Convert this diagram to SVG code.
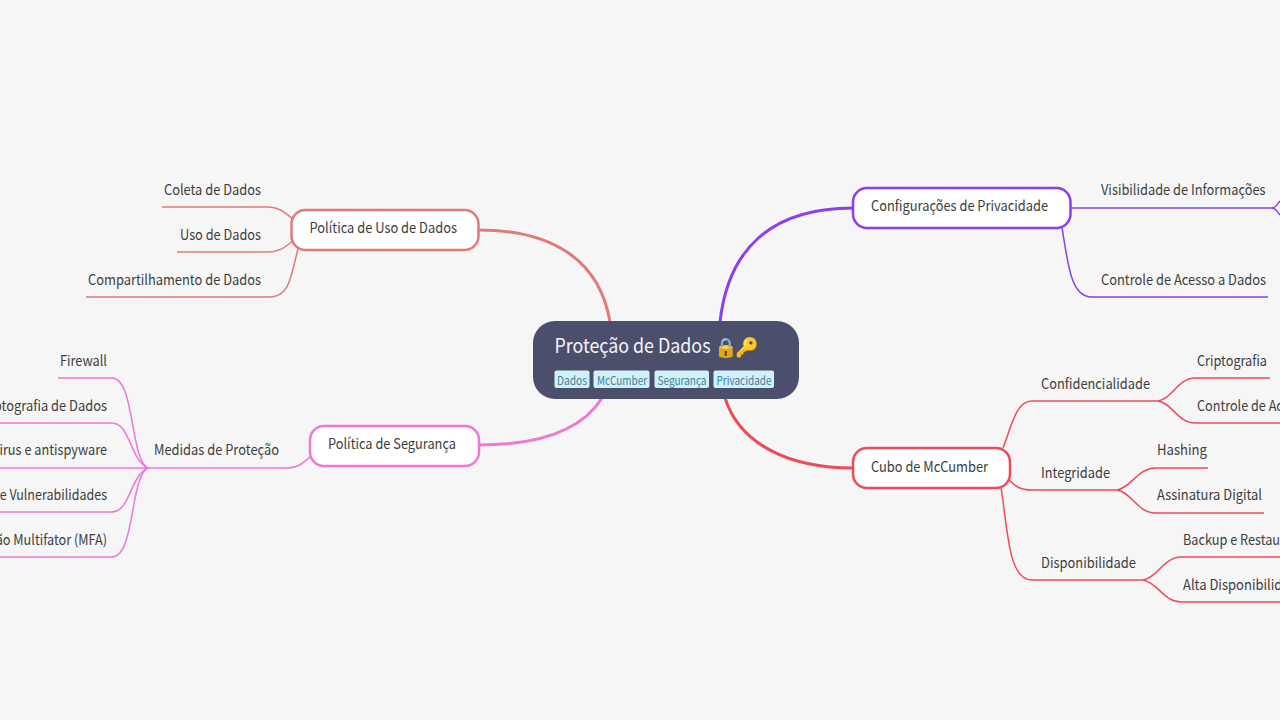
<svg xmlns="http://www.w3.org/2000/svg" width="1280" height="720" viewBox="0 0 1280 720">
<style>
text{font-family:"Noto Sans CJK SC","Source Sans Pro","Noto Sans",sans-serif;font-size:14.5px;fill:#3d3d3d}
.n{fill:#fff;stroke-width:2.5}
.l{fill:none;stroke-width:1.5}
.m{fill:none;stroke-width:3}
.tag{fill:#d2f0f8}
.tt{font-size:11.5px;fill:#3d8299}
.a{stroke:#e07b7b}.b{stroke:#8a3ff0}.c{stroke:#ee78d6}.d{stroke:#ee4b5a}
</style>
<rect width="1280" height="720" fill="#f6f6f6"/>
<g id="connectors">
<path class="m a" d="M610,322C600,262 555,230 479,230"/>
<path class="m b" d="M720,322C728,250 770,208 853,208"/>
<path class="m c" d="M602,398C582,430 540,445 479,445"/>
<path class="m d" d="M725,398C740,445 790,468 853,468"/>
<path class="l a" d="M293,219C284,212 279,207 268,207H162"/>
<path class="l a" d="M293,241C284,248 279,252 268,252H177"/>
<path class="l a" d="M298,249C291,275 290,297 270,297H86"/>
<path class="l b" d="M1071,208H1272"/>
<path class="l b" d="M1272,208C1276,208 1278,203 1280,201"/>
<path class="l b" d="M1272,208C1276,208 1278,213 1280,215"/>
<path class="l b" d="M1062,228C1068,262 1070,297 1092,297H1268"/>
<path class="l c" d="M311,456C302,464 298,468 285,468H150"/>
<path class="l c" d="M150,468H0"/>
<path class="l c" d="M148,468C130,460 135,378 112,378H58"/>
<path class="l c" d="M148,468C130,460 130,423 112,423H0"/>
<path class="l c" d="M148,468C130,476 130,512 112,512H0"/>
<path class="l c" d="M148,468C130,476 135,557 112,557H0"/>
<path class="l d" d="M1003,448C1012,425 1016,401 1032,401H1158"/>
<path class="l d" d="M1009,480C1015,486 1020,490 1032,490H1117"/>
<path class="l d" d="M1001,488C1008,530 1008,580 1032,580H1143"/>
<path class="l d" d="M1158,401C1172,399 1178,378 1195,378H1270"/>
<path class="l d" d="M1158,401C1172,403 1178,423 1195,423H1280"/>
<path class="l d" d="M1117,490C1131,488 1138,468 1155,468H1208"/>
<path class="l d" d="M1117,490C1131,492 1138,513 1155,513H1264"/>
<path class="l d" d="M1143,580C1157,578 1164,557 1181,557H1280"/>
<path class="l d" d="M1143,580C1157,582 1164,602 1181,602H1280"/>
</g>
<g id="root">
<rect x="533" y="321" width="266" height="78" rx="22" fill="#4c4f6c"/>
<text x="554.5" y="353" textLength="156" lengthAdjust="spacingAndGlyphs" style="font-size:20px;fill:#f4f4f8">Proteção de Dados</text>
<text x="713.500" y="354" style="font-size:19px;letter-spacing:-2.5px">🔒🔑</text>
<rect class="tag" x="554.5" y="370.5" width="35" height="17.5" rx="2"/>
<text class="tt" x="557" y="384.5" textLength="30" lengthAdjust="spacingAndGlyphs">Dados</text>
<rect class="tag" x="593.5" y="370.5" width="56" height="17.5" rx="2"/>
<text class="tt" x="597" y="384.5" textLength="50" lengthAdjust="spacingAndGlyphs">McCumber</text>
<rect class="tag" x="654.5" y="370.5" width="54.500" height="17.5" rx="2"/>
<text class="tt" x="657.500" y="384.5" textLength="49" lengthAdjust="spacingAndGlyphs">Segurança</text>
<rect class="tag" x="713.5" y="370.5" width="60.500" height="17.5" rx="2"/>
<text class="tt" x="716.500" y="384.5" textLength="55" lengthAdjust="spacingAndGlyphs">Privacidade</text>
</g>
<g id="uso"><rect class="n a" x="291.500" y="210" width="187" height="40" rx="14"/><text x="309.500" y="233" textLength="147.500" lengthAdjust="spacingAndGlyphs">Política de Uso de Dados</text></g>
<g id="seg"><rect class="n c" x="310" y="426" width="169" height="40" rx="14"/><text x="328" y="449" textLength="128" lengthAdjust="spacingAndGlyphs">Política de Segurança</text></g>
<g id="priv"><rect class="n b" x="853" y="188" width="217.500" height="40" rx="14"/><text x="871" y="211" textLength="177" lengthAdjust="spacingAndGlyphs">Configurações de Privacidade</text></g>
<g id="cubo"><rect class="n d" x="853" y="448" width="157" height="40" rx="14"/><text x="871" y="472" textLength="117" lengthAdjust="spacingAndGlyphs">Cubo de McCumber</text></g>
<g id="uso-kids">
<text x="164" y="195" textLength="97" lengthAdjust="spacingAndGlyphs">Coleta de Dados</text>
<text x="180" y="240" textLength="81" lengthAdjust="spacingAndGlyphs">Uso de Dados</text>
<text x="88" y="285" textLength="173" lengthAdjust="spacingAndGlyphs">Compartilhamento de Dados</text>
</g>
<g id="seg-kids">
<text x="154" y="455" textLength="125" lengthAdjust="spacingAndGlyphs">Medidas de Proteção</text>
<text x="60" y="366" textLength="47" lengthAdjust="spacingAndGlyphs">Firewall</text>
<text x="-23" y="411" textLength="130" lengthAdjust="spacingAndGlyphs">Criptografia de Dados</text>
<text x="-31" y="455" textLength="138" lengthAdjust="spacingAndGlyphs">Antivirus e antispyware</text>
<text x="-51" y="500" textLength="158" lengthAdjust="spacingAndGlyphs">Gestão de Vulnerabilidades</text>
<text x="-67" y="545" textLength="174" lengthAdjust="spacingAndGlyphs">Autenticação Multifator (MFA)</text>
</g>
<g id="priv-kids">
<text x="1101" y="195" textLength="164.500" lengthAdjust="spacingAndGlyphs">Visibilidade de Informações</text>
<text x="1101" y="285" textLength="165" lengthAdjust="spacingAndGlyphs">Controle de Acesso a Dados</text>
</g>
<g id="cubo-kids">
<text x="1041" y="389" textLength="109" lengthAdjust="spacingAndGlyphs">Confidencialidade</text>
<text x="1041" y="478" textLength="69" lengthAdjust="spacingAndGlyphs">Integridade</text>
<text x="1041" y="568" textLength="95" lengthAdjust="spacingAndGlyphs">Disponibilidade</text>
<text x="1197" y="366" textLength="70" lengthAdjust="spacingAndGlyphs">Criptografia</text>
<text x="1197" y="411" textLength="112" lengthAdjust="spacingAndGlyphs">Controle de Acesso</text>
<text x="1157" y="455" textLength="50" lengthAdjust="spacingAndGlyphs">Hashing</text>
<text x="1157" y="500" textLength="105" lengthAdjust="spacingAndGlyphs">Assinatura Digital</text>
<text x="1183" y="545" textLength="130" lengthAdjust="spacingAndGlyphs">Backup e Restauração</text>
<text x="1183" y="590" textLength="122" lengthAdjust="spacingAndGlyphs">Alta Disponibilidade</text>
</g>
</svg>
